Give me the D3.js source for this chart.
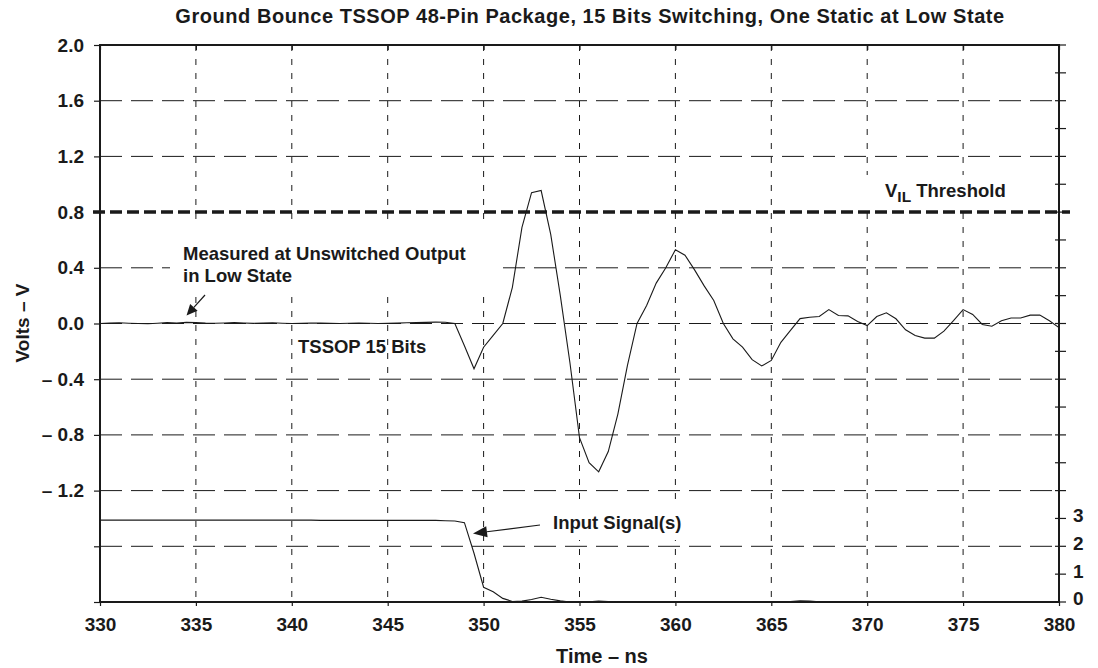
<!DOCTYPE html>
<html>
<head>
<meta charset="utf-8">
<script src="https://cdn.jsdelivr.net/npm/d3@7"></script>
<style>
  html, body { margin: 0; padding: 0; background: #fff; }
  svg { display: block; font-family: "Liberation Sans", Arial, Helvetica, sans-serif; font-weight: bold; }
</style>
</head>
<body>
<svg id="chart" width="1098" height="668"></svg>
<script>
// Sample times (ns), 0.5 ns spacing
const timeNs = d3.range(330, 380.001, 0.5);

// Unswitched output voltage (V)
const bounceVolts = [
  0.000, 0.003, 0.005, 0.002, 0.000, -0.002, 0.002, 0.006, 0.004, 0.008,
  0.006, 0.003, 0.002, 0.004, 0.007, 0.004, 0.001, 0.003, 0.005, 0.002,
  0.000, 0.002, 0.004, 0.003, 0.001, 0.000, 0.002, 0.004, 0.002, 0.000,
  0.001, 0.003, 0.005, 0.006, 0.008, 0.010, 0.009,
  0.000, -0.160, -0.325, -0.170, -0.085, 0.000, 0.260, 0.690, 0.940, 0.955,
  0.640, 0.200, -0.280, -0.820, -1.000, -1.065, -0.920, -0.650, -0.300, 0.000,
  0.130, 0.290, 0.400, 0.530, 0.490, 0.385, 0.270, 0.165, 0.000, -0.110,
  -0.170, -0.260, -0.305, -0.265, -0.135, -0.050, 0.035, 0.045, 0.050, 0.100,
  0.057, 0.055, 0.015, -0.015, 0.050, 0.077, 0.034, -0.045, -0.086, -0.105,
  -0.105, -0.055, 0.020, 0.100, 0.065, -0.007, -0.020, 0.020, 0.040, 0.040,
  0.060, 0.060, 0.020, -0.030
];

// Input signal (V, right-hand scale)
const inputVolts = [
  2.94, 2.94, 2.94, 2.94, 2.94, 2.94, 2.94, 2.94, 2.94, 2.94,
  2.94, 2.94, 2.94, 2.94, 2.94, 2.94, 2.94, 2.94, 2.94, 2.94,
  2.94, 2.94, 2.94, 2.93, 2.93, 2.93, 2.93, 2.93, 2.93, 2.93,
  2.93, 2.93, 2.93, 2.93, 2.93, 2.93, 2.92, 2.91,
  2.85, 1.75, 0.53, 0.37, 0.13, 0.02, 0.03, 0.09, 0.17, 0.10,
  0.04, 0.00, 0.00, 0.01, 0.03, 0.02, 0.00, 0.01, 0.00, 0.01,
  0.02, 0.01, 0.00, 0.00, 0.01, 0.00, 0.01, 0.02, 0.01, 0.00,
  0.00, 0.01, 0.02, 0.01, 0.02, 0.04, 0.03, 0.01, 0.00, 0.01,
  0.01, 0.00, 0.00, 0.01, 0.02, 0.01, 0.00, 0.00, 0.01, 0.01,
  0.00, 0.00, 0.01, 0.00, 0.00, 0.01, 0.01, 0.00, 0.00
];

// Axis ticks and labels
const xTicks = [330, 335, 340, 345, 350, 355, 360, 365, 370, 375, 380];
const yTicks = [2.0, 1.6, 1.2, 0.8, 0.4, 0.0, -0.4, -0.8, -1.2, -1.6, -2.0];
const yTickLabels = ["2.0", "1.6", "1.2", "0.8", "0.4", "0.0", "\u2013 0.4", "\u2013 0.8", "\u2013 1.2", "", ""];
const yMinorTicks = d3.range(-2.0, 2.001, 0.2);
const inputTicks = [0, 1, 2, 3];
const thresholdVolts = 0.8;

const svg = d3.select("#chart");
const M = { left: 100, top: 45, right: 1059, bottom: 602 };

const x = d3.scaleLinear().domain([330, 380]).range([M.left, M.right]);
const y = d3.scaleLinear().domain([-2.0, 2.0]).range([M.bottom, M.top]);
const yIn = d3.scaleLinear().domain([0, 20]).range([M.bottom, M.top]);

const ink = "#1a1a1a";

// Title
svg.append("text")
  .attr("x", 590).attr("y", 23)
  .attr("text-anchor", "middle")
  .attr("font-size", 20)
  .attr("letter-spacing", 0.55)
  .attr("fill", ink)
  .text("Ground Bounce TSSOP 48-Pin Package, 15 Bits Switching, One Static at Low State");

// Horizontal grid (long dashes)
svg.append("g").selectAll("line")
  .data(yTicks.filter(v => v > -2.0 && v < 2.0 && v !== thresholdVolts))
  .join("line")
  .attr("x1", M.left).attr("x2", M.right)
  .attr("y1", d => y(d)).attr("y2", d => y(d))
  .attr("stroke", ink).attr("stroke-width", 1)
  .attr("stroke-dasharray", "22,9");

// Vertical grid (short dashes)
svg.append("g").selectAll("line")
  .data(xTicks.slice(1, -1))
  .join("line")
  .attr("x1", d => x(d)).attr("x2", d => x(d))
  .attr("y1", M.top).attr("y2", M.bottom)
  .attr("stroke", ink).attr("stroke-width", 1)
  .attr("stroke-dasharray", "6,8");

// Label backgrounds that interrupt the grid
const boxes = [
  [170, 222, 328, 71],
  [866, 175, 144, 30],
  [545, 506, 140, 34]
];
svg.append("g").selectAll("rect")
  .data(boxes).join("rect")
  .attr("x", d => d[0]).attr("y", d => d[1])
  .attr("width", d => d[2]).attr("height", d => d[3])
  .attr("fill", "#fff");

// V_IL threshold line
svg.append("line")
  .attr("x1", M.left - 7).attr("x2", M.right + 11)
  .attr("y1", y(thresholdVolts)).attr("y2", y(thresholdVolts))
  .attr("stroke", ink).attr("stroke-width", 3.5)
  .attr("stroke-dasharray", "12,5");

// Frame
svg.append("rect")
  .attr("x", M.left).attr("y", M.top)
  .attr("width", M.right - M.left).attr("height", M.bottom - M.top)
  .attr("fill", "none").attr("stroke", ink).attr("stroke-width", 2);

// Left axis
const yAxis = d3.axisLeft(y).tickValues(yTicks).tickSize(6)
  .tickFormat((d, i) => yTickLabels[i]).tickPadding(10);
const gy = svg.append("g").attr("transform", `translate(${M.left},0)`).call(yAxis);
gy.select(".domain").remove();
gy.selectAll(".tick line").attr("stroke", ink).attr("stroke-width", 1.2);
gy.selectAll(".tick text").attr("font-size", 19).attr("fill", ink)
  .attr("font-family", "Liberation Sans, Arial, sans-serif").attr("font-weight", "bold");

// Bottom axis
const xAxis = d3.axisBottom(x).tickValues(xTicks).tickSize(4).tickPadding(12);
const gx = svg.append("g").attr("transform", `translate(0,${M.bottom})`).call(xAxis);
gx.select(".domain").remove();
gx.selectAll(".tick line").attr("stroke", ink).attr("stroke-width", 1.2);
gx.selectAll(".tick text").attr("font-size", 19).attr("fill", ink)
  .attr("font-family", "Liberation Sans, Arial, sans-serif").attr("font-weight", "bold");

// Top axis ticks
const gt = svg.append("g").attr("transform", `translate(0,${M.top})`)
  .call(d3.axisTop(x).tickValues(xTicks).tickSize(-5).tickFormat(""));
gt.select(".domain").remove();
gt.selectAll(".tick line").attr("stroke", ink).attr("stroke-width", 1.2);

// Right axis: minor ticks across the frame, labels for the input scale
const gr = svg.append("g").attr("transform", `translate(${M.right},0)`);
gr.selectAll("line").data(yMinorTicks).join("line")
  .attr("x1", -4).attr("x2", 7)
  .attr("y1", d => y(d)).attr("y2", d => y(d))
  .attr("stroke", ink).attr("stroke-width", 1.2);
const gri = svg.append("g").attr("transform", `translate(${M.right},0)`)
  .call(d3.axisRight(yIn).tickValues(inputTicks).tickSize(0).tickPadding(14));
gri.select(".domain").remove();
gri.selectAll(".tick text").attr("font-size", 19).attr("fill", ink)
  .attr("dy", "0.15em")
  .attr("font-family", "Liberation Sans, Arial, sans-serif").attr("font-weight", "bold");

// Traces
const line = d3.line().x((d, i) => x(timeNs[i]));
svg.append("path")
  .attr("d", line.y(d => yIn(d))(inputVolts))
  .attr("fill", "none").attr("stroke", ink).attr("stroke-width", 1.1);
svg.append("path")
  .attr("d", d3.line().x((d, i) => x(timeNs[i])).y(d => y(d))(bounceVolts))
  .attr("fill", "none").attr("stroke", ink).attr("stroke-width", 1.1);

// Axis titles
svg.append("text")
  .attr("transform", "translate(29,323) rotate(-90)")
  .attr("text-anchor", "middle").attr("font-size", 19).attr("fill", ink)
  .text("Volts \u2013 V");
svg.append("text")
  .attr("x", 602).attr("y", 663)
  .attr("text-anchor", "middle").attr("font-size", 20).attr("fill", ink)
  .text("Time \u2013 ns");

// Annotations
const ann = svg.append("g").attr("font-size", 18.5).attr("fill", ink);
ann.append("text").attr("x", 183).attr("y", 260).text("Measured at Unswitched Output");
ann.append("text").attr("x", 183).attr("y", 282).text("in Low State");
ann.append("text").attr("x", 298).attr("y", 353).text("TSSOP 15 Bits");
ann.append("text").attr("x", 553).attr("y", 529).text("Input Signal(s)");
const vil = ann.append("text").attr("x", 885).attr("y", 197);
vil.append("tspan").text("V");
vil.append("tspan").attr("font-size", 15.5).attr("dy", 5).text("IL");
vil.append("tspan").attr("dy", -5).text(" Threshold");

// Arrows
function arrow(x1, y1, x2, y2, len, half) {
  const a = Math.atan2(y2 - y1, x2 - x1);
  const bx = x2 - len * Math.cos(a), by = y2 - len * Math.sin(a);
  svg.append("line").attr("x1", x1).attr("y1", y1).attr("x2", bx).attr("y2", by)
    .attr("stroke", ink).attr("stroke-width", 1.2);
  const px = -Math.sin(a) * half, py = Math.cos(a) * half;
  svg.append("path")
    .attr("d", `M${x2},${y2}L${bx + px},${by + py}L${bx - px},${by - py}Z`)
    .attr("fill", ink);
}
arrow(205, 295, 186.5, 315.5, 11, 5);
arrow(540, 525, 473, 533.5, 14, 5.5);
</script>
</body>
</html>
